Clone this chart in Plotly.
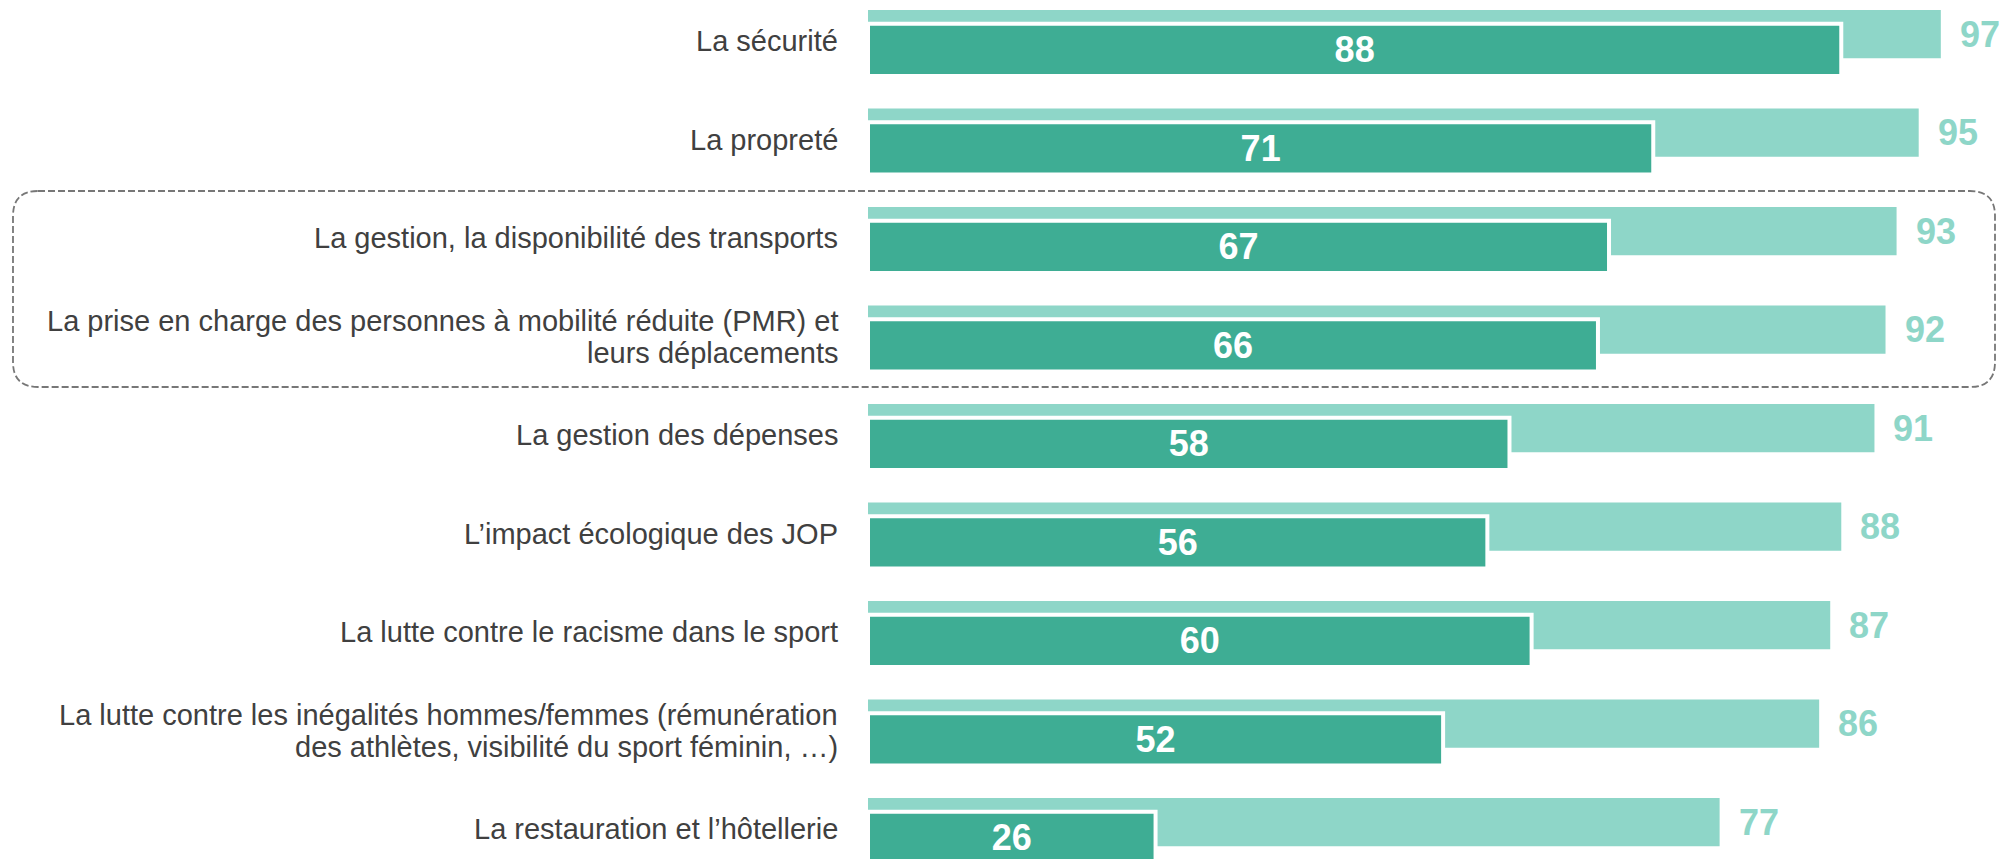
import plotly.graph_objects as go

# ---------------------------------------------------------------------------
# Données
# ---------------------------------------------------------------------------
categories = [
    "La sécurité",
    "La propreté",
    "La gestion, la disponibilité des transports",
    "La prise en charge des personnes à mobilité réduite (PMR) et\nleurs déplacements",
    "La gestion des dépenses",
    "L’impact écologique des JOP",
    "La lutte contre le racisme dans le sport",
    "La lutte contre les inégalités hommes/femmes (rémunération\ndes athlètes, visibilité du sport féminin, …)",
    "La restauration et l’hôtellerie",
]
total_values = [97, 95, 93, 92, 91, 88, 87, 86, 77]
top_values = [88, 71, 67, 66, 58, 56, 60, 52, 26]

# ---------------------------------------------------------------------------
# Style
# ---------------------------------------------------------------------------
LIGHT = "#8ED6C8"
DARK = "#3EAD94"
TEXT = "#404040"
FONT = "Arial, Liberation Sans, sans-serif"

W, H = 2000, 859
LEFT = 868            # pixel position of the value 0
PX_PER_UNIT = 11.06   # horizontal scale
ROW0 = 42             # pixel centre of the first row
PITCH = 98.5          # pixels between rows

rows = list(range(len(categories)))
y_top = -ROW0 / PITCH
y_bot = (H - ROW0) / PITCH

fig = go.Figure()

# barre claire (total)
fig.add_trace(go.Bar(
    y=rows, x=total_values, orientation="h",
    offset=-32 / PITCH, width=48.3 / PITCH,
    marker=dict(color=LIGHT, line=dict(width=0)),
    hoverinfo="skip", showlegend=False,
))

# barre foncée (premier rang), liseré blanc
fig.add_trace(go.Bar(
    y=rows, x=top_values, orientation="h",
    offset=-18.3 / PITCH, width=52.3 / PITCH,
    marker=dict(color=DARK, line=dict(color="white", width=4)),
    text=[str(v) for v in top_values],
    textposition="inside", insidetextanchor="middle",
    constraintext="none",
    textfont=dict(family=FONT, size=36, color="white", weight="bold"),
    hoverinfo="skip", showlegend=False,
))

annotations = []

# valeurs totales à droite des barres claires
for r, v in zip(rows, total_values):
    annotations.append(dict(
        x=v, y=r - 0.08, xref="x", yref="y",
        text=f"<b>{v}</b>", showarrow=False,
        xanchor="left", yanchor="middle", xshift=17,
        font=dict(family=FONT, size=36, color=LIGHT),
    ))

# libellés des catégories (une annotation par ligne pour serrer l'interligne)
for r, label in zip(rows, categories):
    lines = label.split("\n")
    n = len(lines)
    for k, line in enumerate(lines):
        annotations.append(dict(
            x=0, y=r, xref="x", yref="y",
            text=line, showarrow=False,
            xanchor="right", yanchor="middle", xshift=-28,
            yshift=(n - 1) * 16 - k * 32 + 1,
            font=dict(family=FONT, size=29, color=TEXT),
        ))

# cadre pointillé arrondi autour des transports / PMR
def px_x(p):
    return (p - LEFT) / (W - LEFT)


def px_y(p):
    return 1 - p / H


xl, xr = px_x(13), px_x(1995)
yt, yb = px_y(191), px_y(387)
rx, ry = 25 / (W - LEFT), 25 / H
box_path = (
    f"M {xl + rx},{yt} L {xr - rx},{yt} Q {xr},{yt} {xr},{yt - ry} "
    f"L {xr},{yb + ry} Q {xr},{yb} {xr - rx},{yb} "
    f"L {xl + rx},{yb} Q {xl},{yb} {xl},{yb + ry} "
    f"L {xl},{yt - ry} Q {xl},{yt} {xl + rx},{yt} Z"
)

fig.update_layout(
    width=W, height=H,
    margin=dict(l=LEFT, r=0, t=0, b=0),
    paper_bgcolor="white", plot_bgcolor="white",
    barmode="overlay",
    xaxis=dict(range=[0, (W - LEFT) / PX_PER_UNIT], visible=False, fixedrange=True),
    yaxis=dict(range=[y_bot, y_top], visible=False, fixedrange=True),
    annotations=annotations,
    shapes=[dict(
        type="path", path=box_path, xref="paper", yref="paper",
        line=dict(color="#777777", width=1.8, dash="7px,3px"),
        fillcolor="rgba(0,0,0,0)", layer="below",
    )],
    font=dict(family=FONT),
)

# pas de marge de page autour du graphique
fig.write_html(
    "out.html",
    config={"displayModeBar": False},
    post_script="document.body.style.margin='0px';document.body.style.overflow='hidden';",
)
